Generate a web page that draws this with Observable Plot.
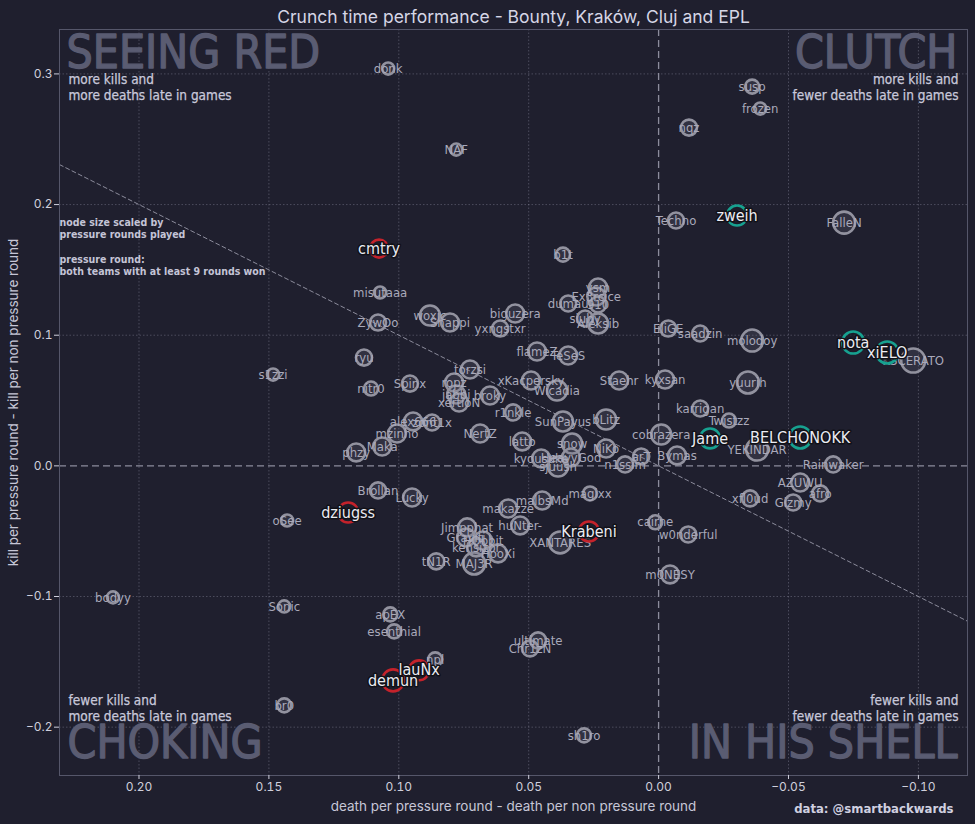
<!DOCTYPE html>
<html>
<head>
<meta charset="utf-8">
<script src="https://cdn.jsdelivr.net/npm/d3@7"></script>
<script src="https://cdn.jsdelivr.net/npm/@observablehq/plot@0.6"></script>
<style>
  html, body { margin: 0; padding: 0; background: #1f1f2e; }
  #chart { width: 975px; height: 824px; }
</style>
</head>
<body>
<div id="chart"></div>
<script>
// ---- data ----
const names = ["donk","NAF","cmtry","susp","frozen","nqz","zweih","Techno","FalleN","b1t",
  "misutaaa","ZywOo","woxic","Snappi","biguzera","yxngstxr","ysm","Ex3rcice","dumau","910",
  "siuhy","Aleksib","flameZ","TeSeS","Staehr","kyxsan","EliGE","saadzin","molodoy","yuurih",
  "ryu","s1zzi","nitr0","Spinx","torzsi","ropz","jabbi","xertioN","broky","xKacpersky",
  "Wicadia","r1nkle","karrigan","Twistzz","Jame","YEKINDAR","BELCHONOKK","cobrazera","arT","Bymas",
  "n1ssim","NiKo","snow","latto","kyousuke","HeavyGod","sjuush","NertZ","bLitz","SunPayus",
  "alex666","zont1x","mzinho","Maka","phzy","Rainwaker","AZUWU","afro","Gizmy","xfl0ud",
  "nota","xiELO","KSCERATO","Brollan","Lucky","dziugss","oSee","makazze","malbsMd","magixx",
  "Jimpphat","huNter-","Graviti","HObbit","kensizor","HooXi","tN1R","MAJ3R","XANTARES","Krabeni",
  "cairne","w0nderful","m0NESY","ultimate","Chr1zN","bodyy","Sonic","apEX","esenthial","npl",
  "lauNx","demun","br0","sh1ro"];
// death per pressure round - death per non pressure round
const deathDiff = [0.1041,0.0779,0.1076,-0.0360,-0.0391,-0.0117,-0.0302,-0.0067,-0.0714,0.0368,
  0.1072,0.1080,0.0880,0.0803,0.0552,0.0610,0.0233,0.0240,0.0348,0.0233,
  0.0283,0.0233,0.0468,0.0348,0.0152,-0.0025,-0.0037,-0.0160,-0.0360,-0.0344,
  0.1134,0.1484,0.1107,0.0957,0.0726,0.0787,0.0779,0.0768,0.0649,0.0491,
  0.0391,0.0560,-0.0160,-0.0271,-0.0198,-0.0379,-0.0545,-0.0010,0.0067,-0.0071,
  0.0129,0.0202,0.0333,0.0525,0.0452,0.0337,0.0387,0.0687,0.0202,0.0368,
  0.0945,0.0872,0.1007,0.1064,0.1164,-0.0672,-0.0545,-0.0622,-0.0518,-0.0352,
  -0.0749,-0.0880,-0.0980,0.1080,0.0949,0.1195,0.1430,0.0579,0.0448,0.0264,
  0.0737,0.0533,0.0741,0.0676,0.0702,0.0618,0.0856,0.0710,0.0379,0.0268,
  0.0013,-0.0114,-0.0044,0.0464,0.0495,0.2100,0.1441,0.1033,0.1018,0.0860,
  0.0922,0.1022,0.1441,0.0287];
// kill per pressure round - kill per non pressure round
const killDiff = [0.3041,0.2421,0.1663,0.2903,0.2735,0.2589,0.1916,0.1878,0.1862,0.1617,
  0.1327,0.1097,0.1151,0.1097,0.1166,0.1051,0.1365,0.1296,0.1243,0.1235,
  0.1128,0.1090,0.0875,0.0845,0.0653,0.0661,0.1051,0.1013,0.0959,0.0638,
  0.0829,0.0699,0.0592,0.0630,0.0738,0.0638,0.0546,0.0485,0.0539,0.0653,
  0.0577,0.0409,0.0439,0.0347,0.0210,0.0125,0.0217,0.0240,0.0072,0.0080,
  0.0011,0.0133,0.0171,0.0187,0.0057,0.0064,-0.0005,0.0248,0.0355,0.0340,
  0.0340,0.0332,0.0248,0.0148,0.0103,0.0011,-0.0127,-0.0211,-0.0280,-0.0249,
  0.0944,0.0868,0.0806,-0.0188,-0.0242,-0.0357,-0.0418,-0.0326,-0.0265,-0.0211,
  -0.0471,-0.0456,-0.0548,-0.0571,-0.0624,-0.0670,-0.0731,-0.0747,-0.0586,-0.0502,
  -0.0432,-0.0525,-0.0831,-0.1336,-0.1397,-0.1007,-0.1076,-0.1137,-0.1267,-0.1481,
  -0.1565,-0.1642,-0.1833,-0.2063];
// pressure rounds played (node size)
const rounds = [38,38,84,51,38,67,104,67,126,51,
  38,67,104,84,84,67,84,84,67,67,
  67,104,84,84,84,84,67,67,126,126,
  67,38,51,67,84,84,84,84,84,84,
  104,67,67,51,104,126,126,104,67,84,
  67,84,104,84,84,84,104,84,104,104,
  84,67,84,84,84,67,84,67,67,67,
  126,126,150,67,84,104,38,84,84,51,
  84,84,84,84,84,84,67,126,126,104,
  51,67,84,67,67,38,38,51,51,51,
  104,126,51,51];
const redPlayers = ["cmtry","dziugss","Krabeni","lauNx","demun"];
const tealPlayers = ["zweih","nota","xiELO","Jame","BELCHONOKK"];
const xTicks = [0.20,0.15,0.10,0.05,0.00,-0.05,-0.10];
const yTicks = [0.3,0.2,0.1,0.0,-0.1,-0.2];
const xDomain = [0.2306,-0.1189];
const yDomain = [-0.237,0.334];

const players = names.map((name,i)=>({
  name, dx: deathDiff[i], dy: killDiff[i], rounds: rounds[i],
  group: redPlayers.includes(name) ? "red" : tealPlayers.includes(name) ? "teal" : "none"
}));
const plain = players.filter(d=>d.group==="none");
const hot = players.filter(d=>d.group!=="none");

const COND = "DejaVu Sans Condensed, DejaVu Sans, sans-serif";
const bigStyle = {fontFamily: COND, fontSize: 46, fill: "#5a5c72", stroke: "#5a5c72", strokeWidth: 1.3, lineAnchor: "middle"};
const subStyle = {fontFamily: COND, fontSize: 13.5, fill: "#c8c8da", stroke: "#c8c8da", strokeWidth: 0.25, lineAnchor: "middle"};
const noteStyle = {fontFamily: COND, fontSize: 10.5, fontWeight: "bold", fill: "#c4c4d6", lineAnchor: "middle", frameAnchor: "top-left", dx: 0};

const chart = Plot.plot({
  width: 975, height: 824,
  marginTop: 29, marginBottom: 49, marginLeft: 59, marginRight: 8,
  style: {background: "#1f1f2e", color: "#cfcfdc", fontFamily: "Inter, sans-serif", fontSize: "12px"},
  x: {domain: xDomain, ticks: xTicks, tickFormat: d3.format(".2f")},
  y: {domain: yDomain, ticks: yTicks, tickFormat: d3.format(".1f")},
  r: {type: "sqrt", domain: [0,150], range: [0,12]},
  marks: [
    Plot.gridX(xTicks.filter(d=>d!==0), {stroke: "#a0a0b4", strokeOpacity: 0.35, strokeDasharray: "1.5,2"}),
    Plot.gridY(yTicks.filter(d=>d!==0), {stroke: "#a0a0b4", strokeOpacity: 0.35, strokeDasharray: "1.5,2"}),
    Plot.ruleX([0], {stroke: "#8c8c9c", strokeDasharray: "7,4", strokeWidth: 1.3}),
    Plot.ruleY([0], {stroke: "#8c8c9c", strokeDasharray: "7,4", strokeWidth: 1.3}),
    Plot.line(xDomain, {x: d=>d, y: d=>d, stroke: "#8c8c9c", strokeDasharray: "4,3", strokeWidth: 1, clip: true}),
    Plot.frame({stroke: "#55566a", strokeWidth: 1}),
    Plot.axisX({ticks: xTicks, tickFormat: d3.format(".2f"), tickSize: 4, tickPadding: 3, label: null, fontSize: 12}),
    Plot.axisY({ticks: yTicks, tickFormat: d3.format(".1f"), tickSize: 5, tickPadding: 2, label: null, fontSize: 12}),
    // quadrant titles
    Plot.text(["SEEING RED"], {...bigStyle, frameAnchor: "top-left", dx: 7, dy: 24}),
    Plot.text(["CLUTCH"], {...bigStyle, frameAnchor: "top-right", dx: -10, dy: 24}),
    Plot.text(["CHOKING"], {...bigStyle, frameAnchor: "bottom-left", dx: 8, dy: -32}),
    Plot.text(["IN HIS SHELL"], {...bigStyle, frameAnchor: "bottom-right", dx: -10, dy: -32}),
    Plot.text(["more kills and"], {...subStyle, frameAnchor: "top-left", dx: 9, dy: 50}),
    Plot.text(["more deaths late in games"], {...subStyle, frameAnchor: "top-left", dx: 9, dy: 66}),
    Plot.text(["more kills and"], {...subStyle, frameAnchor: "top-right", dx: -9, dy: 50}),
    Plot.text(["fewer deaths late in games"], {...subStyle, frameAnchor: "top-right", dx: -9, dy: 66}),
    Plot.text(["fewer kills and"], {...subStyle, frameAnchor: "bottom-left", dx: 9, dy: -75}),
    Plot.text(["more deaths late in games"], {...subStyle, frameAnchor: "bottom-left", dx: 9, dy: -59}),
    Plot.text(["fewer kills and"], {...subStyle, frameAnchor: "bottom-right", dx: -9, dy: -75}),
    Plot.text(["fewer deaths late in games"], {...subStyle, frameAnchor: "bottom-right", dx: -9, dy: -59}),
    Plot.text(["node size scaled by"], {...noteStyle, dy: 193}),
    Plot.text(["pressure rounds played"], {...noteStyle, dy: 205}),
    Plot.text(["pressure round:"], {...noteStyle, dy: 230}),
    Plot.text(["both teams with at least 9 rounds won"], {...noteStyle, dy: 242}),
    // regular players
    Plot.dot(plain, {x: "dx", y: "dy", r: "rounds", stroke: "#92929f", strokeWidth: 2.6, fill: "#70708a", fillOpacity: 0.22}),
    Plot.text(plain, {x: "dx", y: "dy", text: "name", fontFamily: COND, fontSize: 13, fill: "#a9a9ba", lineAnchor: "middle"}),
    // highlighted players
    Plot.dot(hot, {x: "dx", y: "dy", r: "rounds", stroke: d=>d.group==="red" ? "#c4222b" : "#17a190", strokeWidth: 2.6, fill: "#1a1a26", fillOpacity: 0.6}),
    Plot.text(hot, {x: "dx", y: "dy", text: "name", fontFamily: COND, fontSize: 16, fill: "#ececf2", stroke: "#111118", strokeWidth: 3, lineAnchor: "middle"}),
    // titles & axis labels
    Plot.text(["Crunch time performance - Bounty, Kraków, Cluj and EPL"], {frameAnchor: "top", dy: -12.5, fontSize: 17.5, fill: "#d6d6e6", lineAnchor: "middle", fontFamily: "Inter, sans-serif"}),
    Plot.text(["death per pressure round - death per non pressure round"], {frameAnchor: "bottom", dy: 31, fontSize: 13.5, fill: "#c6c6d6", lineAnchor: "middle", fontFamily: "Inter, sans-serif"}),
    Plot.text(["kill per pressure round - kill per non pressure round"], {frameAnchor: "left", dx: -46, rotate: -90, textAnchor: "middle", fontSize: 13.5, fill: "#c6c6d6", lineAnchor: "middle", fontFamily: "Inter, sans-serif"}),
    Plot.text(["data: @smartbackwards"], {frameAnchor: "bottom-right", dx: -14, dy: 33, textAnchor: "end", fontSize: 13, fontWeight: "bold", fill: "#d0d0e0", lineAnchor: "middle", fontFamily: COND})
  ]
});
document.getElementById("chart").appendChild(chart);
</script>
</body>
</html>
